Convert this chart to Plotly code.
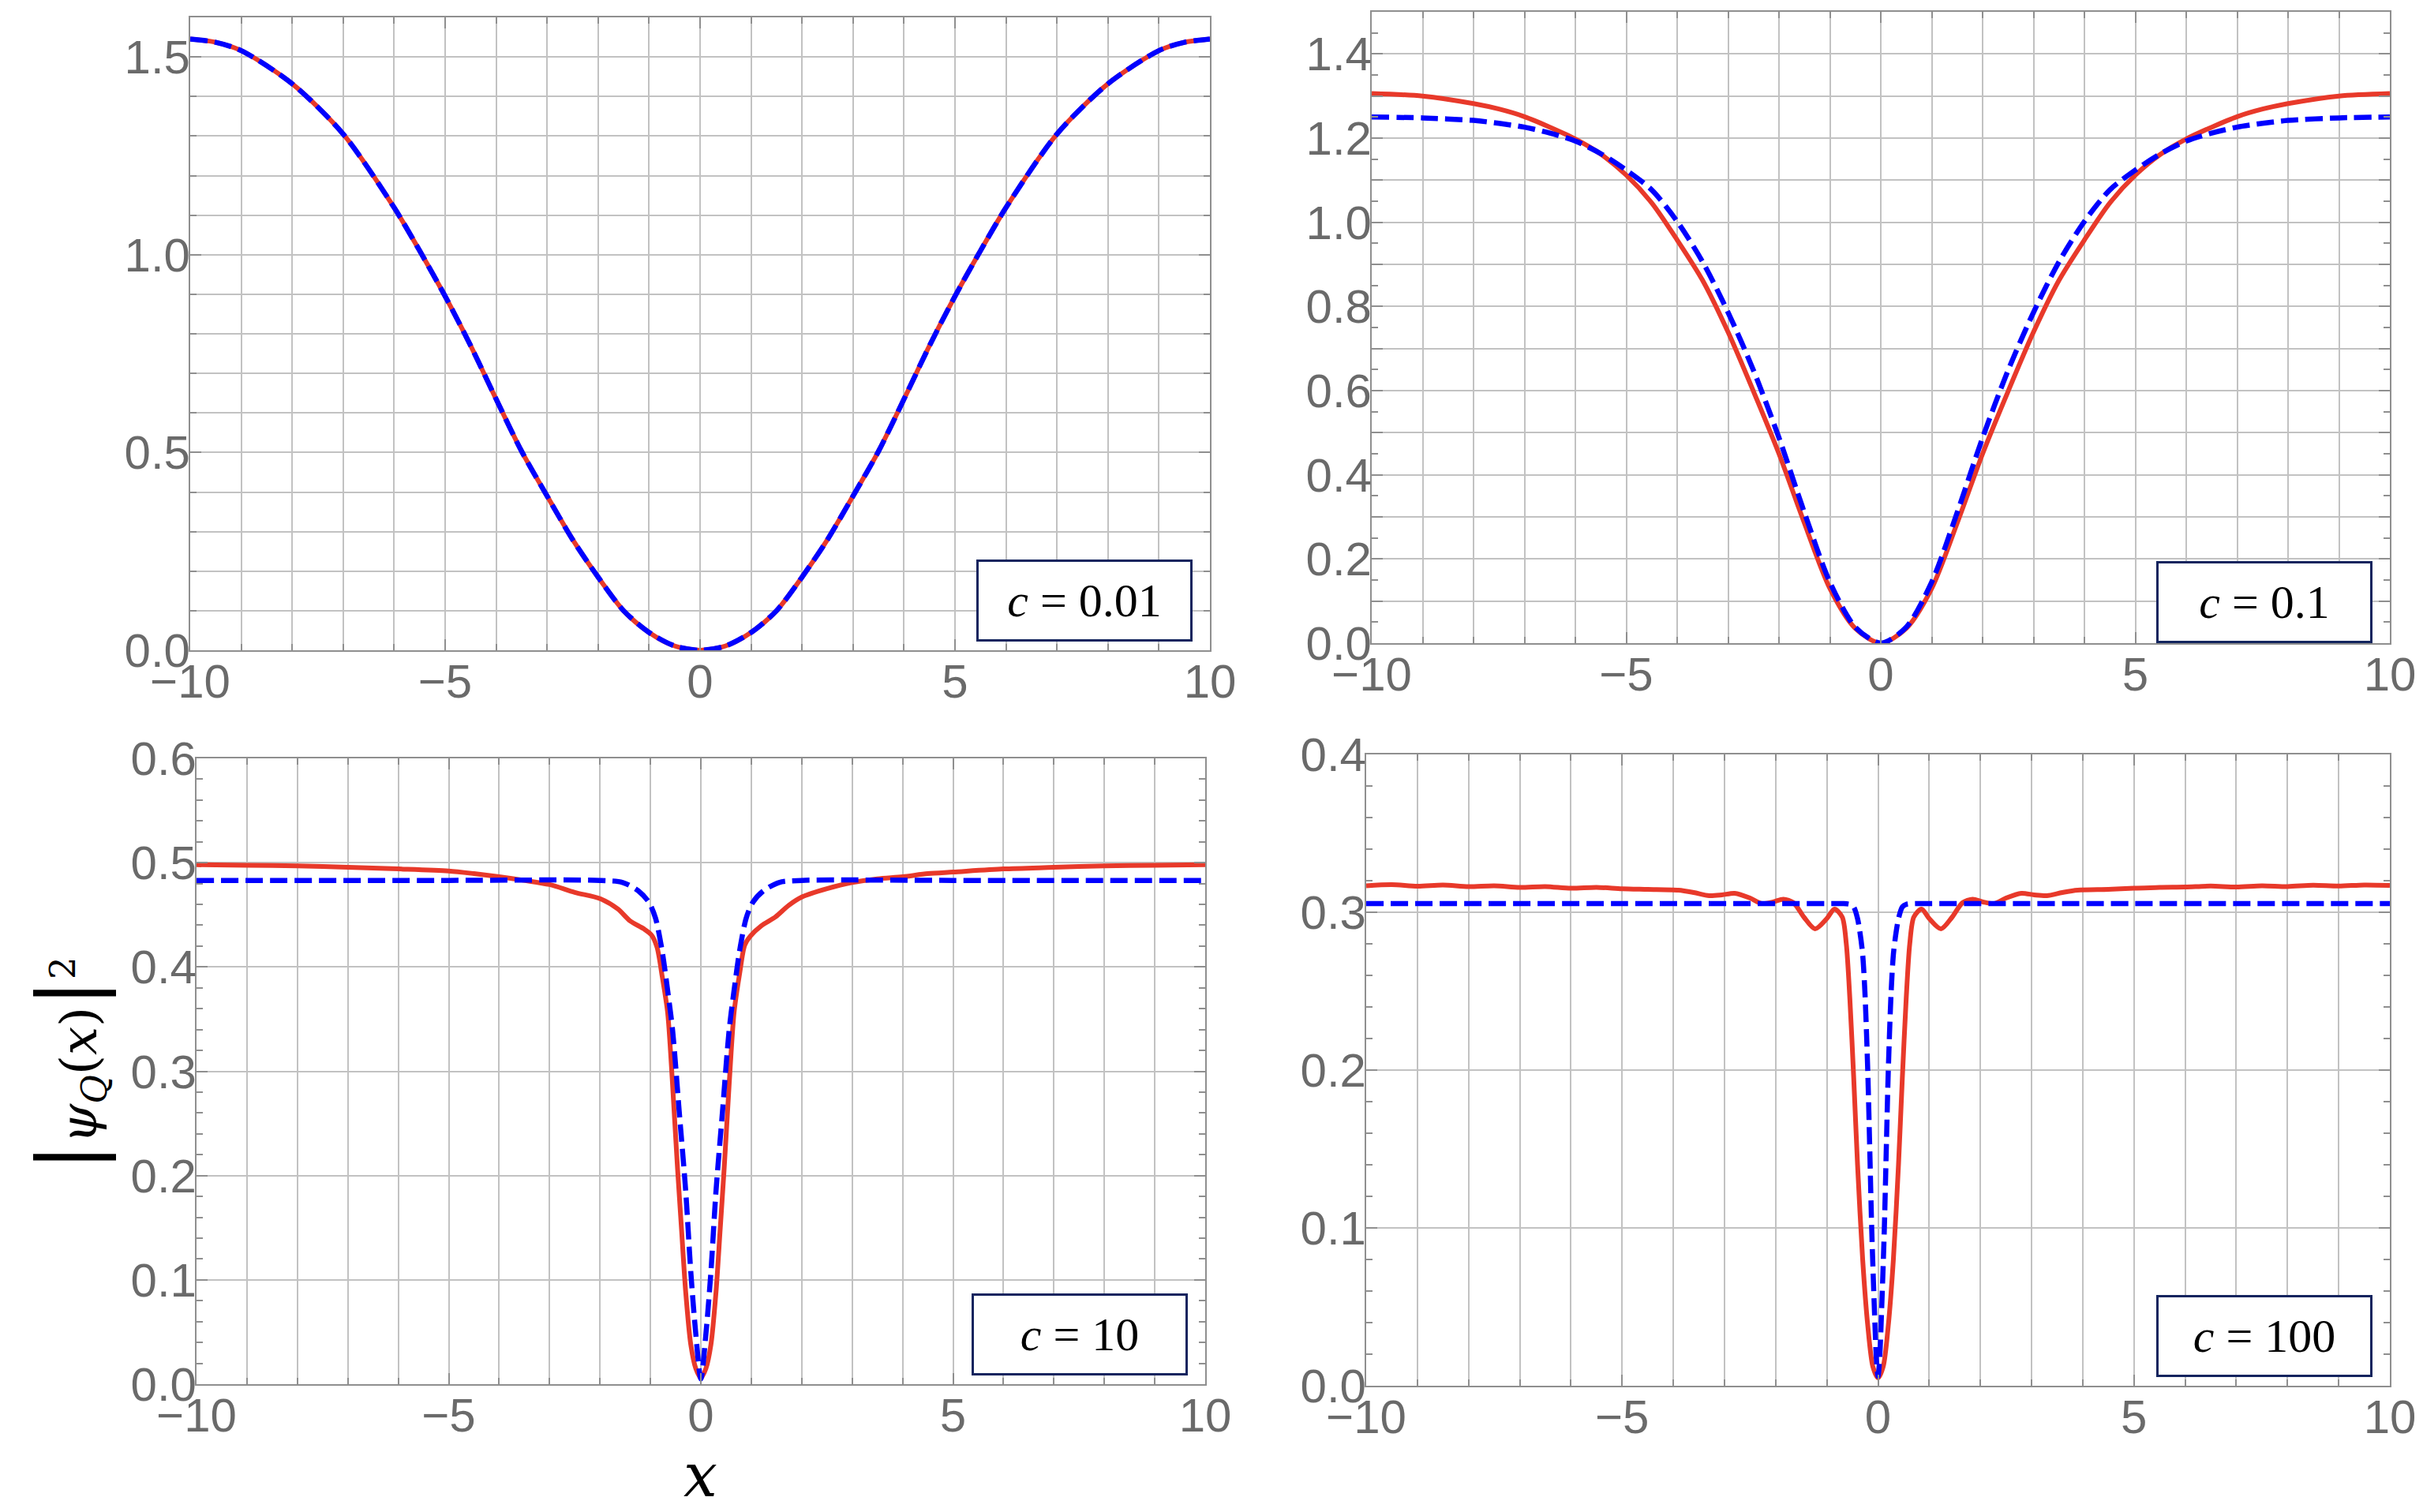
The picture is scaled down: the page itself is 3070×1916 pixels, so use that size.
import plotly.graph_objects as go

# ---------------- data ----------------
# Panel c = 0.01 (both curves coincide)
x_c001 = [-10, -9.5, -9, -8, -7, -6, -5.5, -5, -4.5, -4, -3.5, -3, -2.5, -2, -1.5, -1, -0.5, 0,
          0.5, 1, 1.5, 2, 2.5, 3, 3.5, 4, 4.5, 5, 5.5, 6, 7, 8, 9, 9.5, 10]
y_c001_num = [1.545, 1.537, 1.516, 1.432, 1.305, 1.119, 1.010, 0.895, 0.770, 0.635, 0.503, 0.390,
              0.280, 0.185, 0.100, 0.045, 0.011, 0.000,
              0.011, 0.045, 0.100, 0.185, 0.280, 0.390, 0.503, 0.635, 0.770, 0.895, 1.010,
              1.119, 1.305, 1.432, 1.516, 1.537, 1.545]
y_c001_ana = [1.545, 1.537, 1.516, 1.432, 1.305, 1.119, 1.010, 0.895, 0.770, 0.635, 0.503, 0.390,
              0.280, 0.185, 0.100, 0.045, 0.011, 0.000,
              0.011, 0.045, 0.100, 0.185, 0.280, 0.390, 0.503, 0.635, 0.770, 0.895, 1.010,
              1.119, 1.305, 1.432, 1.516, 1.537, 1.545]

# Panel c = 0.1
x_c01 = [-10, -9, -8, -7.5, -7, -6.5, -6, -5.5, -5, -4.5, -4, -3.5, -3, -2.5, -2, -1.5, -1, -0.5, 0,
         0.5, 1, 1.5, 2, 2.5, 3, 3.5, 4, 4.5, 5, 5.5, 6, 6.5, 7, 7.5, 8, 9, 10]
y_c01_num = [1.306, 1.300, 1.282, 1.269, 1.251, 1.226, 1.198, 1.162, 1.112, 1.046, 0.958, 0.862,
             0.739, 0.598, 0.450, 0.285, 0.130, 0.035, 0.000,
             0.035, 0.130, 0.285, 0.450, 0.598, 0.739, 0.862, 0.958, 1.046, 1.112, 1.162, 1.198,
             1.226, 1.251, 1.269, 1.282, 1.300, 1.306]
y_c01_ana = [1.250, 1.248, 1.242, 1.235, 1.226, 1.212, 1.193, 1.163, 1.124, 1.077, 1.002, 0.906,
             0.786, 0.648, 0.488, 0.310, 0.145, 0.038, 0.000,
             0.038, 0.145, 0.310, 0.488, 0.648, 0.786, 0.906, 1.002, 1.077, 1.124, 1.163, 1.193,
             1.212, 1.226, 1.235, 1.242, 1.248, 1.250]

# Panel c = 10
x_c10_num = [-10, -9, -8, -7, -6, -5, -4.5, -4, -3.5, -3, -2.5, -2, -1.65, -1.4, -1.13, -0.98, -0.87,
             -0.77, -0.66, -0.6, -0.53, -0.46, -0.38, -0.3, -0.2, -0.1, 0,
             0.1, 0.2, 0.3, 0.38, 0.46, 0.53, 0.6, 0.66, 0.77, 0.87, 0.98, 1.2, 1.48, 1.74, 2.0,
             2.5, 3.0, 3.5, 4.0, 4.5, 5, 6, 7, 8, 9, 10]
y_c10_num = [0.498, 0.4975, 0.497, 0.4955, 0.494, 0.492, 0.4895, 0.4865, 0.483, 0.479, 0.4715,
             0.4655, 0.4557, 0.444, 0.4365, 0.4307, 0.419, 0.392, 0.357, 0.318, 0.262, 0.205,
             0.146, 0.088, 0.038, 0.015, 0.006,
             0.015, 0.038, 0.088, 0.146, 0.205, 0.262, 0.318, 0.357, 0.394, 0.421, 0.4295,
             0.4395, 0.448, 0.459, 0.467, 0.475, 0.481, 0.4845, 0.4865, 0.4895, 0.491, 0.494,
             0.4955, 0.497, 0.4975, 0.498]
x_c10_ana = [-10, -5, -2, -1.55, -1.24, -1.03, -0.9, -0.77, -0.66, -0.56, -0.43, -0.3, -0.2, -0.1, 0,
             0.1, 0.2, 0.3, 0.43, 0.56, 0.66, 0.77, 0.9, 1.03, 1.24, 1.55, 2, 5, 10]
y_c10_ana = [0.483, 0.483, 0.483, 0.481, 0.473, 0.462, 0.447, 0.416, 0.378, 0.339, 0.262, 0.185,
             0.108, 0.048, 0.005,
             0.048, 0.108, 0.185, 0.262, 0.339, 0.378, 0.416, 0.447, 0.462, 0.473, 0.481, 0.483,
             0.483, 0.483]

# Panel c = 100
x_c100_num = [-10, -9.5, -9, -8.5, -8, -7.5, -7, -6.5, -6, -5.5, -5, -4.5, -3.9, -3.6, -3.3, -3.05,
              -2.8, -2.5, -2.27, -2.05, -1.85, -1.65, -1.45, -1.23, -1.0, -0.85, -0.7, -0.62, -0.55,
              -0.475, -0.4, -0.3, -0.2, -0.1, 0,
              0.1, 0.2, 0.3, 0.4, 0.475, 0.55, 0.62, 0.7, 0.85, 1.0, 1.23, 1.45, 1.65, 1.85, 2.05,
              2.27, 2.5, 2.8, 3.05, 3.3, 3.6, 3.9, 4.5, 5, 5.5, 6, 6.5, 7, 7.5, 8, 8.5, 9, 9.5, 10]
y_c100_num = [0.3168, 0.3175, 0.3165, 0.3172, 0.3162, 0.3168, 0.3158, 0.3163, 0.3152, 0.3158,
              0.3149, 0.3145, 0.3140, 0.3125, 0.3105, 0.311, 0.312, 0.309, 0.3055, 0.3065, 0.3083,
              0.306, 0.297, 0.2895, 0.296, 0.302, 0.297, 0.280, 0.245, 0.195, 0.140, 0.080, 0.038,
              0.012, 0.005,
              0.012, 0.038, 0.080, 0.140, 0.195, 0.245, 0.280, 0.297, 0.302, 0.296, 0.2895, 0.297,
              0.306, 0.3083, 0.3065, 0.3055, 0.309, 0.312, 0.311, 0.3105, 0.3125, 0.3140, 0.3145,
              0.3152, 0.3158, 0.3160, 0.3166, 0.3160, 0.3168, 0.3163, 0.3171, 0.3166, 0.3173, 0.3170]
x_c100_ana = [-10, -5, -1, -0.68, -0.55, -0.478, -0.4, -0.307, -0.257, -0.2, -0.16, -0.121, -0.068,
              -0.03, 0, 0.03, 0.068, 0.121, 0.16, 0.2, 0.257, 0.307, 0.4, 0.478, 0.55, 0.68, 1, 5, 10]
y_c100_ana = [0.3055, 0.3055, 0.3055, 0.3055, 0.305, 0.3035, 0.296, 0.2756, 0.250, 0.199, 0.148,
              0.097, 0.046, 0.016, 0.006, 0.016, 0.046, 0.097, 0.148, 0.199, 0.250, 0.2756, 0.296,
              0.3035, 0.305, 0.3055, 0.3055, 0.3055, 0.3055]

labels = ["0.01", "0.1", "10", "100"]

# ---------------- styling ----------------
W, H = 3070, 1916
RED = "#e8392a"
BLUE = "#0000ff"
FRAME = "#8f8f8f"
GRID = "#c2c2c2"
TICKC = "#6a6a6a"
TFONT = "Liberation Sans"
SERIF = "Liberation Serif"
MATH = "DejaVu Serif"


def px_x(a, b):
    return [a / W, b / W]


def px_y(top, bottom):
    return [1 - bottom / H, 1 - top / H]


panels = [
    dict(xd=px_x(241, 1533), yd=px_y(22, 824), yr=[0, 1.6], ymaj=0.5, ymin=0.1, ygrid_minor=True),
    dict(xd=px_x(1738, 3028), yd=px_y(15, 815), yr=[0, 1.5], ymaj=None, ymin=0.05, ygrid_minor=False),
    dict(xd=px_x(249, 1527), yd=px_y(961, 1754), yr=[0, 0.6], ymaj=0.1, ymin=0.02, ygrid_minor=False),
    dict(xd=px_x(1731, 3028), yd=px_y(956, 1756), yr=[0, 0.4], ymaj=0.1, ymin=0.02, ygrid_minor=False),
]

series = [
    (x_c001, y_c001_num, x_c001, y_c001_ana),
    (x_c01, y_c01_num, x_c01, y_c01_ana),
    (x_c10_num, y_c10_num, x_c10_ana, y_c10_ana),
    (x_c100_num, y_c100_num, x_c100_ana, y_c100_ana),
]

fig = go.Figure()
layout = dict(
    width=W, height=H, autosize=False,
    margin=dict(l=0, r=0, t=0, b=0, pad=0),
    paper_bgcolor="white", plot_bgcolor="white",
    showlegend=False,
)

annotations = []
for i, (p, (xn, yn, xa, ya), lab) in enumerate(zip(panels, series, labels)):
    k = "" if i == 0 else str(i + 1)
    xa_name, ya_name = "xaxis" + k, "yaxis" + k
    xref, yref = "x" + k, "y" + k

    fig.add_trace(go.Scatter(x=xn, y=yn, mode="lines", xaxis=xref, yaxis=yref,
                             line=dict(color=RED, width=6, shape="spline", smoothing=0.8),
                             hoverinfo="skip"))
    fig.add_trace(go.Scatter(x=xa, y=ya, mode="lines", xaxis=xref, yaxis=yref,
                             line=dict(color=BLUE, width=6.5, dash="22px,9px",
                                       shape="spline", smoothing=0.8),
                             hoverinfo="skip"))

    layout[xa_name] = dict(
        domain=p["xd"], anchor=yref, range=[-10, 10], automargin=False,
        showline=True, linecolor=FRAME, linewidth=2, mirror="allticks",
        ticks="inside", ticklen=14, tickwidth=2, tickcolor=FRAME,
        tick0=0, dtick=5, showgrid=True, gridcolor=GRID, gridwidth=2, zeroline=False,
        tickfont=dict(family=TFONT, size=60, color=TICKC), ticklabelstandoff=-14,
        minor=dict(tick0=0, dtick=1, ticks="inside", ticklen=8, tickwidth=2, tickcolor=FRAME,
                   showgrid=True, gridcolor=GRID, gridwidth=2),
    )
    yax = dict(
        domain=p["yd"], anchor=xref, range=p["yr"], automargin=False,
        showline=True, linecolor=FRAME, linewidth=2, mirror="allticks",
        ticks="inside", ticklen=14, tickwidth=2, tickcolor=FRAME,
        showgrid=True, gridcolor=GRID, gridwidth=2, zeroline=False,
        tickfont=dict(family=TFONT, size=60, color=TICKC), ticklabelstandoff=-14,
        tickformat=".1f",
        minor=dict(ticks="inside", ticklen=8, tickwidth=2, tickcolor=FRAME,
                   dtick=p["ymin"], tick0=0, showgrid=p["ygrid_minor"],
                   gridcolor=GRID, gridwidth=2),
    )
    if p["ymaj"] is None:
        vals = [j / 10 for j in range(0, 16)]
        yax["tickmode"] = "array"
        yax["tickvals"] = vals
        yax["ticktext"] = [f"{v:.1f}" if j % 2 == 0 else "" for j, v in enumerate(vals)]
    else:
        yax["tick0"] = 0
        yax["dtick"] = p["ymaj"]
    layout[ya_name] = yax

    # parameter box in lower right corner
    annotations.append(dict(
        xref=xref + " domain", yref=yref + " domain",
        x=1 - 22 / ((p["xd"][1] - p["xd"][0]) * W),
        y=11 / ((p["yd"][1] - p["yd"][0]) * H) if i != 1 else 0.0,
        xanchor="right", yanchor="bottom",
        text=f"<i>c</i> = {lab}", showarrow=False,
        font=dict(family=SERIF, size=60, color="black"),
        bgcolor="white", bordercolor="#13245e", borderwidth=3, borderpad=4,
        width=260, height=90, align="center", valign="middle",
    ))

annotations.append(dict(
    xref="paper", yref="paper", x=86 / W, y=1 - 1348 / H,
    text=("<span style=\"font-size:104px\">|</span><i>ψ</i><sub><i>Q</i></sub>(<i>x</i>)"
          "<span style=\"font-size:104px\">|</span><sup>2</sup>"),
    textangle=-90, showarrow=False, xanchor="center", yanchor="middle",
    font=dict(family=MATH, size=64, color="black"),
))
annotations.append(dict(
    xref="paper", yref="paper", x=888 / W, y=0,
    text="<i>x</i>", showarrow=False, xanchor="center", yanchor="bottom",
    font=dict(family=MATH, size=76, color="black"),
))
layout["annotations"] = annotations
fig.update_layout(**layout)
fig.write_html(
    "out.html",
    config={"displayModeBar": False, "staticPlot": True},
    post_script="document.body.style.margin='0px';document.body.style.overflow='hidden';",
)
